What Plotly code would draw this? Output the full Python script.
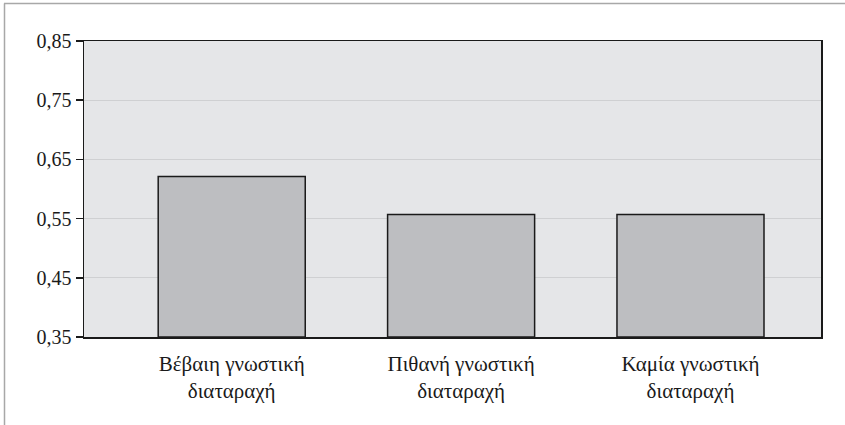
import plotly.graph_objects as go

categories = ["Βέβαιη γνωστική<br>διαταραχή", "Πιθανή γνωστική<br>διαταραχή", "Καμία γνωστική<br>διαταραχή"]
values = [0.621, 0.557, 0.557]
ytick_vals = [0.35, 0.45, 0.55, 0.65, 0.75, 0.85]
ytick_text = ["0,35", "0,45", "0,55", "0,65", "0,75", "0,85"]
y_base = 0.35

xpos = list(range(len(categories)))

fig = go.Figure()
fig.add_trace(go.Bar(
    x=xpos, y=[v - y_base for v in values], base=y_base, width=0.641,
    marker=dict(color="#bdbec1", line=dict(color="#1a1a1a", width=1.5)),
    hoverinfo="skip",
))

fig.update_layout(
    width=845, height=425,
    margin=dict(l=84, r=24, t=41, b=88, autoexpand=False),
    paper_bgcolor="white",
    plot_bgcolor="#e5e6e8",
    showlegend=False,
    font=dict(family="Times New Roman, Liberation Serif, serif", size=20, color="#1a1a1a"),
    xaxis=dict(
        range=[-0.644, 2.569],
        tickvals=xpos, ticktext=categories,
        tickfont=dict(size=21),
        ticklabelstandoff=7,
        showgrid=False, zeroline=False,
        showline=True, linecolor="#1a1a1a", linewidth=1.5, mirror=True,
        ticks="", automargin=False,
    ),
    yaxis=dict(
        range=[0.35, 0.85],
        tickvals=ytick_vals, ticktext=ytick_text,
        showgrid=True, gridcolor="#cfd0d2", gridwidth=1,
        zeroline=False,
        showline=True, linecolor="#1a1a1a", linewidth=1.5, mirror=True,
        ticks="outside", ticklen=7, tickcolor="#1a1a1a", tickwidth=1.5,
        automargin=False,
    ),
    shapes=[
        dict(type="line", xref="paper", yref="paper",
             x0=-80/737, x1=(845-84)/737, y0=(425-88-3.5)/296, y1=(425-88-3.5)/296,
             line=dict(color="#a8a8a8", width=1.5)),
        dict(type="line", xref="paper", yref="paper",
             x0=-79.5/737, x1=-79.5/737, y0=(425-88-3.5)/296, y1=-88/296,
             line=dict(color="#a8a8a8", width=1.5)),
    ],
)

fig.write_html("out.html", config={"displayModeBar": False, "staticPlot": True},
               post_script="document.body.style.margin='0';document.body.style.overflow='hidden';")
